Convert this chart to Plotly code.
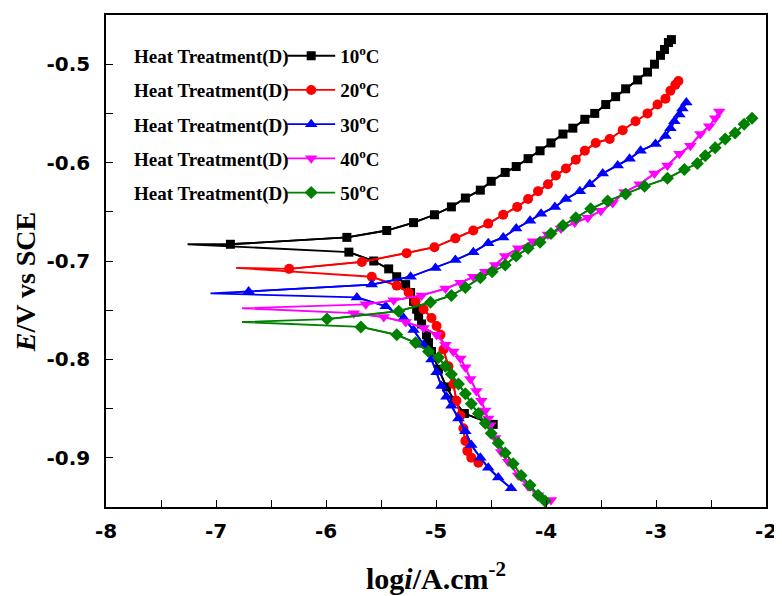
import plotly.graph_objects as go

# ---------------- data ----------------
x_range = [-8, -2]
y_range = [-0.95, -0.45]
x_ticks = [-8, -7, -6, -5, -4, -3, -2]
y_ticks = [-0.9, -0.8, -0.7, -0.6, -0.5]

series_labels = ["10<sup>o</sup>C", "20<sup>o</sup>C", "30<sup>o</sup>C", "40<sup>o</sup>C", "50<sup>o</sup>C"]
legend_prefix = "Heat Treatment(D)"

# 10 C
ecorr_10 = (-7.258, -0.683)
anod_x_10 = [-6.869, -5.810, -5.448, -5.204, -5.014, -4.860, -4.733, -4.597, -4.498, -4.371, -4.271, -4.163,
             -4.054, -3.955, -3.846, -3.756, -3.647, -3.557, -3.457, -3.367, -3.276, -3.167, -3.077, -3.014,
             -2.959, -2.923, -2.887, -2.860]
anod_y_10 = [-0.683, -0.676, -0.669, -0.661, -0.653, -0.645, -0.636, -0.628, -0.619, -0.610, -0.604, -0.596,
             -0.588, -0.580, -0.571, -0.565, -0.556, -0.550, -0.541, -0.533, -0.525, -0.516, -0.508, -0.500,
             -0.491, -0.485, -0.478, -0.475]
cath_x_10 = [-5.792, -5.566, -5.430, -5.357, -5.276, -5.231, -5.204, -5.176, -5.158, -5.131, -5.086, -5.068,
             -5.041, -4.977, -4.905, -4.833, -4.742, -4.480]
cath_y_10 = [-0.691, -0.700, -0.708, -0.716, -0.724, -0.732, -0.741, -0.749, -0.756, -0.764, -0.775, -0.783,
             -0.792, -0.810, -0.828, -0.842, -0.855, -0.866]

# 20 C
ecorr_20 = (-6.817, -0.707)
anod_x_20 = [-6.335, -5.674, -5.267, -5.014, -4.824, -4.661, -4.525, -4.389, -4.262, -4.163, -4.072, -3.982,
             -3.910, -3.819, -3.729, -3.647, -3.548, -3.421, -3.303, -3.186, -3.077, -2.986, -2.914, -2.869,
             -2.824, -2.796]
anod_y_20 = [-0.708, -0.701, -0.692, -0.686, -0.677, -0.669, -0.662, -0.653, -0.645, -0.637, -0.629, -0.622,
             -0.613, -0.606, -0.597, -0.588, -0.580, -0.576, -0.567, -0.558, -0.550, -0.541, -0.535, -0.527,
             -0.521, -0.517]
cath_x_20 = [-5.584, -5.357, -5.249, -5.186, -5.113, -5.041, -4.995, -4.959, -4.932, -4.887, -4.842, -4.814,
             -4.778, -4.751, -4.733, -4.715, -4.679, -4.615]
cath_y_20 = [-0.716, -0.725, -0.732, -0.741, -0.749, -0.758, -0.766, -0.775, -0.790, -0.807, -0.825, -0.842,
             -0.857, -0.870, -0.883, -0.893, -0.900, -0.905]

# 30 C
ecorr_30 = (-7.050, -0.733)
anod_x_30 = [-6.703, -5.584, -5.231, -5.005, -4.824, -4.661, -4.525, -4.389, -4.271, -4.145, -4.045, -3.919,
             -3.819, -3.692, -3.602, -3.484, -3.348, -3.240, -3.140, -3.005, -2.914, -2.869, -2.833, -2.787,
             -2.760, -2.724]
anod_y_30 = [-0.731, -0.724, -0.716, -0.707, -0.699, -0.691, -0.682, -0.676, -0.667, -0.659, -0.652, -0.645,
             -0.637, -0.629, -0.622, -0.611, -0.603, -0.596, -0.588, -0.581, -0.573, -0.565, -0.558, -0.551,
             -0.545, -0.539]
cath_x_30 = [-5.719, -5.457, -5.294, -5.204, -5.113, -5.041, -4.995, -4.950, -4.905, -4.860, -4.796, -4.733,
             -4.679, -4.597, -4.525, -4.434, -4.317]
cath_y_30 = [-0.737, -0.746, -0.758, -0.770, -0.785, -0.800, -0.813, -0.827, -0.838, -0.847, -0.860, -0.873,
             -0.887, -0.900, -0.910, -0.920, -0.931]

# 40 C
ecorr_40 = (-6.763, -0.748)
anod_x_40 = [-5.638, -5.385, -5.131, -4.914, -4.778, -4.661, -4.552, -4.462, -4.371, -4.253, -4.118, -3.982,
             -3.864, -3.738, -3.620, -3.502, -3.394, -3.285, -3.149, -3.014, -2.896, -2.787, -2.688, -2.597,
             -2.516, -2.462, -2.425]
anod_y_40 = [-0.744, -0.740, -0.735, -0.728, -0.722, -0.716, -0.711, -0.704, -0.695, -0.687, -0.680, -0.673,
             -0.667, -0.661, -0.656, -0.649, -0.641, -0.630, -0.622, -0.611, -0.603, -0.591, -0.583, -0.571,
             -0.563, -0.555, -0.548]
cath_x_40 = [-5.747, -5.475, -5.276, -5.113, -4.995, -4.914, -4.842, -4.778, -4.733, -4.688, -4.633, -4.588,
             -4.552, -4.525, -4.507, -4.462, -4.407, -4.344, -4.253, -4.163, -4.072, -3.955]
cath_y_40 = [-0.753, -0.757, -0.762, -0.768, -0.775, -0.785, -0.792, -0.799, -0.808, -0.820, -0.832, -0.842,
             -0.852, -0.860, -0.867, -0.880, -0.894, -0.904, -0.918, -0.929, -0.938, -0.943]

# 50 C
ecorr_50 = (-6.763, -0.762)
anod_x_50 = [-5.991, -5.339, -5.050, -4.860, -4.733, -4.597, -4.489, -4.371, -4.271, -4.163, -4.054, -3.955,
             -3.846, -3.729, -3.593, -3.439, -3.276, -3.104, -2.896, -2.742, -2.624, -2.552, -2.462, -2.371,
             -2.281, -2.199, -2.127]
anod_y_50 = [-0.759, -0.751, -0.742, -0.735, -0.727, -0.717, -0.711, -0.704, -0.695, -0.687, -0.681, -0.672,
             -0.664, -0.656, -0.647, -0.639, -0.632, -0.624, -0.616, -0.607, -0.601, -0.593, -0.585, -0.576,
             -0.570, -0.561, -0.555]
cath_x_50 = [-5.683, -5.357, -5.186, -5.068, -4.977, -4.914, -4.860, -4.796, -4.733, -4.679, -4.615, -4.552,
             -4.498, -4.434, -4.371, -4.299, -4.226, -4.145, -4.072, -4.009]
cath_y_50 = [-0.767, -0.775, -0.783, -0.792, -0.798, -0.807, -0.815, -0.825, -0.835, -0.845, -0.855, -0.865,
             -0.875, -0.885, -0.895, -0.906, -0.918, -0.928, -0.938, -0.944]

# ---------------- styling ----------------
colors = ["#000000", "#ff0000", "#0000ff", "#ff00ff", "#008000"]
symbols = ["square", "circle", "triangle-up", "triangle-down", "diamond"]
msizes = [9, 10, 11, 11, 10]

series = [
    (ecorr_10, anod_x_10, anod_y_10, cath_x_10, cath_y_10),
    (ecorr_20, anod_x_20, anod_y_20, cath_x_20, cath_y_20),
    (ecorr_30, anod_x_30, anod_y_30, cath_x_30, cath_y_30),
    (ecorr_40, anod_x_40, anod_y_40, cath_x_40, cath_y_40),
    (ecorr_50, anod_x_50, anod_y_50, cath_x_50, cath_y_50),
]

fig = go.Figure()
for i, (ec, ax_, ay_, cx_, cy_) in enumerate(series):
    # continuous curve: cathodic end -> Ecorr -> anodic end
    lx = cx_[::-1] + [ec[0]] + ax_
    ly = cy_[::-1] + [ec[1]] + ay_
    fig.add_trace(go.Scatter(x=lx, y=ly, mode="lines", line=dict(color=colors[i], width=1.8),
                             showlegend=False, hoverinfo="skip"))
    mx = cx_[::-1] + [None] + ax_
    my = cy_[::-1] + [None] + ay_
    fig.add_trace(go.Scatter(x=mx, y=my, mode="lines+markers", name=series_labels[i],
                             legendgroup=f"g{i}",
                             line=dict(color=colors[i], width=1.8),
                             marker=dict(symbol=symbols[i], size=msizes[i], color=colors[i],
                                         line=dict(width=0))))

# page offset of the plotly div (body margin)
OFF = 8
W, H = 774, 588
L, T = 106 - OFF, 13 - OFF
R = W - (769 - OFF)
B = H - (507 - OFF)
pw, ph = W - L - R, H - T - B

axis_font = dict(family="DejaVu Sans", size=20, color="black", weight="bold")
fig.update_xaxes(range=x_range, tickvals=x_ticks, ticktext=[str(v) for v in x_ticks],
                 ticks="inside", ticklen=7, tickwidth=1.2, tickcolor="black",
                 minor=dict(dtick=0.5, tick0=-8, ticks="inside", ticklen=7, tickwidth=1.2, tickcolor="black"),
                 showline=True, linecolor="black", linewidth=1.5, mirror=True,
                 showgrid=False, zeroline=False, tickfont=axis_font, ticklabelstandoff=5)
fig.update_yaxes(range=y_range, tickvals=y_ticks, ticktext=[f"{v:.1f}" for v in y_ticks],
                 ticks="inside", ticklen=7, tickwidth=1.2, tickcolor="black",
                 minor=dict(dtick=0.05, tick0=-0.9, ticks="inside", ticklen=7, tickwidth=1.2, tickcolor="black"),
                 showline=True, linecolor="black", linewidth=1.5, mirror=True,
                 showgrid=False, zeroline=False, tickfont=axis_font, ticklabelstandoff=10)

xtitle_font = dict(family="Liberation Serif, Times New Roman", size=30, color="black", weight="bold")
ytitle_font = dict(family="Liberation Serif, Times New Roman", size=28, color="black", weight="bold")
legend_font = dict(family="Liberation Serif, Times New Roman", size=19, color="black", weight="bold")

def px_x(p):
    return (p - OFF - L) / pw

def px_y(p):
    return (H - B - (p - OFF)) / ph

annotations = [
    dict(text="log<i>i</i>/A.cm<sup>-2</sup>", x=px_x(437), y=px_y(576), xref="paper", yref="paper",
         showarrow=False, font=xtitle_font, xanchor="center", yanchor="middle"),
    dict(text="<i>E</i>/V vs SCE", x=px_x(25.5), y=px_y(280.5), xref="paper", yref="paper",
         showarrow=False, font=ytitle_font, textangle=-90, xanchor="center", yanchor="middle"),
]
legend_rows = [55, 89.5, 124, 158.5, 193]
for r in legend_rows:
    annotations.append(dict(text=legend_prefix, x=px_x(292), y=px_y(r), xref="paper", yref="paper",
                            showarrow=False, font=legend_font, xanchor="right", yanchor="middle"))

fig.update_layout(
    width=W, height=H,
    margin=dict(l=L, r=R, t=T, b=B),
    paper_bgcolor="white", plot_bgcolor="white",
    annotations=annotations,
    legend=dict(x=px_x(283), y=px_y(35), xanchor="left", yanchor="top",
                font=legend_font, bgcolor="rgba(0,0,0,0)", borderwidth=0,
                tracegroupgap=6.5, itemwidth=48, traceorder="grouped"),
)

fig.write_html("out.html")
